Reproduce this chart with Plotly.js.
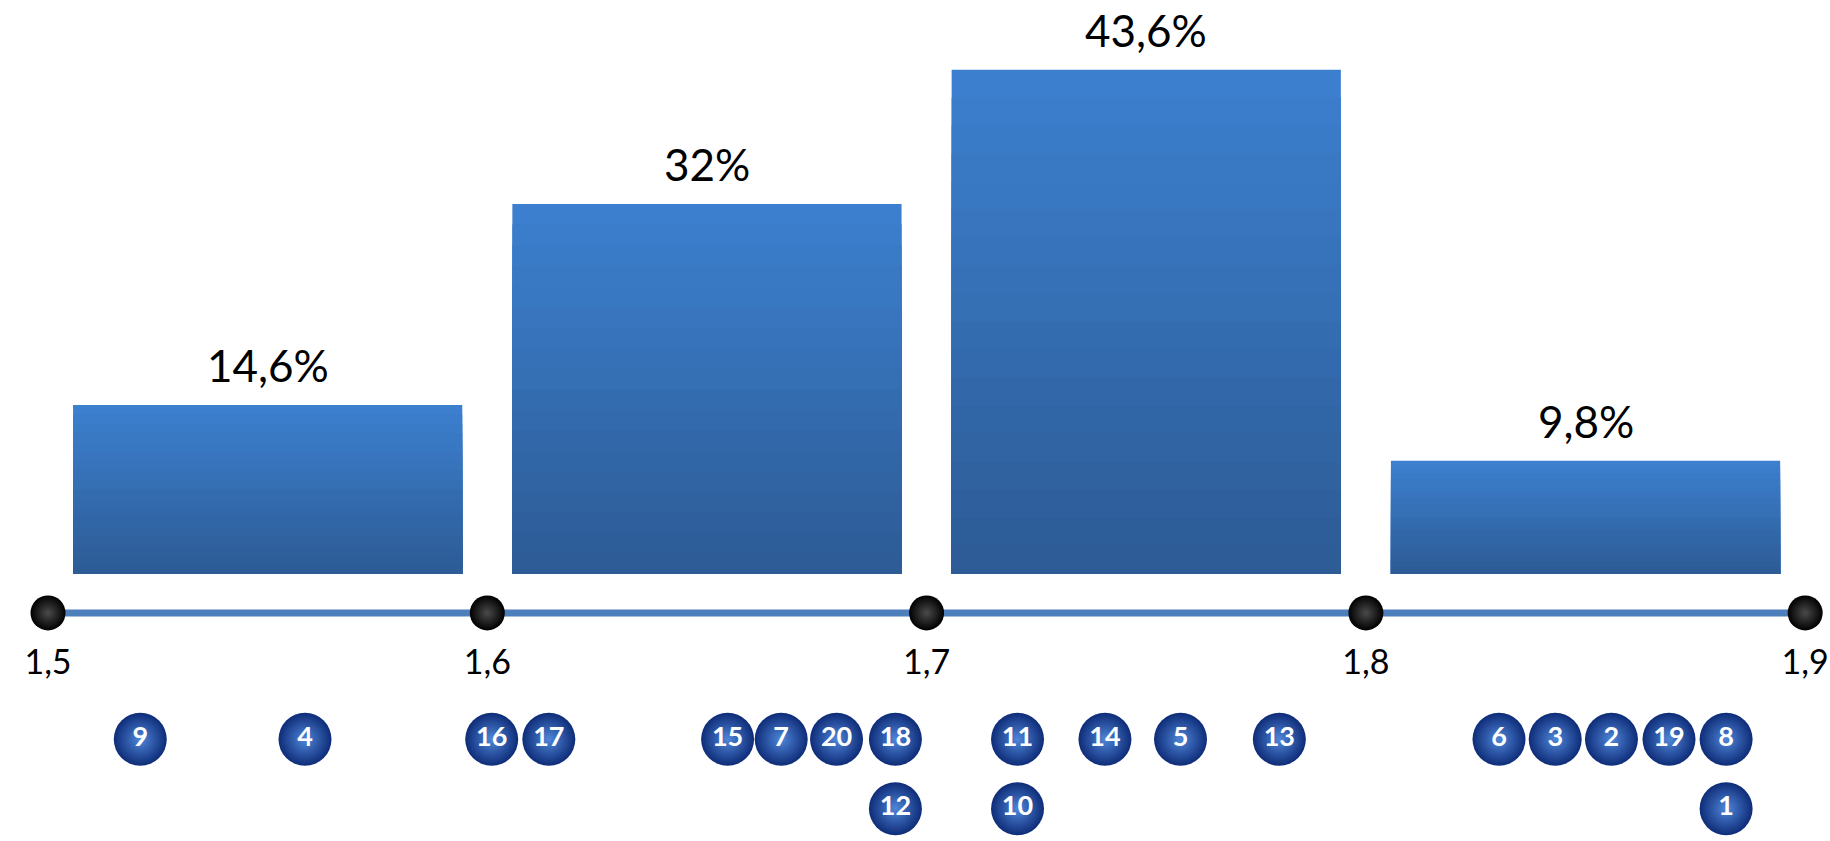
<!DOCTYPE html>
<html>
<head>
<meta charset="utf-8">
<script src="https://cdn.plot.ly/plotly-3.0.1.min.js"></script>
<style>
  html, body { margin: 0; padding: 0; background: #ffffff; }
  #chart { width: 1830px; height: 841px; }
</style>
</head>
<body>
<div id="chart"></div>
<script>
// ---- data ----
const binCenters = [1.55, 1.65, 1.75, 1.85];
const binShares = [14.6, 32, 43.6, 9.8];
const binLabels = ['14,6%', '32%', '43,6%', '9,8%'];

const tickValues = [1.5, 1.6, 1.7, 1.8, 1.9];
const tickLabels = ['1,5', '1,6', '1,7', '1,8', '1,9'];

const personIds = ['9', '4', '16', '17', '15', '7', '20', '18', '12', '11', '10', '14', '5', '13', '6', '3', '2', '19', '8', '1'];
const personHeights = [1.521, 1.5585, 1.601, 1.614, 1.6547, 1.6669, 1.6795, 1.6929, 1.6929, 1.7207, 1.7207, 1.7406, 1.7578, 1.7803, 1.8303, 1.8431, 1.8559, 1.869, 1.882, 1.882];
const personStack = [0, 0, 0, 0, 0, 0, 0, 0, 1, 0, 1, 0, 0, 0, 0, 0, 0, 0, 0, 1];

// ---- layout constants (positions / styles) ----
const axisLevel = -3.37;
const rowLevels = [-14.3, -20.3];
const barWidth = 0.0886;
const topColor = [60, 127, 206];
const bottomColor = [45, 92, 150];
const layers = 18;

const traces = [];

// gradient-looking bars: overlay layers of the same bars
for (let k = 0; k < layers; k++) {
  const t = k / (layers - 1);
  const c = topColor.map((v, i) => Math.round(v + (bottomColor[i] - v) * t));
  traces.push({
    type: 'bar',
    x: binCenters,
    y: binShares.map(v => v * (layers - k) / layers),
    width: barWidth,
    marker: { color: `rgb(${c[0]},${c[1]},${c[2]})`, line: { width: 0 } },
    hoverinfo: 'skip',
    showlegend: false
  });
}

// axis line with black dots
traces.push({
  type: 'scatter',
  mode: 'lines+markers',
  x: tickValues,
  y: tickValues.map(() => axisLevel),
  line: { color: '#4d7fbd', width: 7 },
  marker: {
    size: 35,
    color: '#000000',
    gradient: { type: 'radial', color: '#4a4a4a' },
    line: { width: 0 }
  },
  hoverinfo: 'skip',
  showlegend: false
});

// numbered balls
traces.push({
  type: 'scatter',
  mode: 'markers+text',
  x: personHeights,
  y: personStack.map(r => rowLevels[r]),
  text: personIds,
  textposition: 'middle center',
  textfont: { family: 'Lato, sans-serif', size: 27, color: '#ffffff', weight: 700 },
  marker: {
    size: 53,
    color: '#0e2c78',
    gradient: { type: 'radial', color: '#4f86d8' },
    line: { width: 0 }
  },
  hoverinfo: 'skip',
  showlegend: false
});

const annotations = binCenters.map((x, i) => ({
  x: x,
  y: binShares[i],
  xref: 'x',
  yref: 'y',
  text: binLabels[i],
  showarrow: false,
  yanchor: 'middle',
  yshift: 40,
  font: { family: 'Lato, sans-serif', size: 44, color: '#000000' }
}));

const layout = {
  width: 1830,
  height: 841,
  margin: { l: 0, r: 0, t: 0, b: 0, pad: 0 },
  paper_bgcolor: '#ffffff',
  plot_bgcolor: '#ffffff',
  barmode: 'overlay',
  separators: ',.',
  showlegend: false,
  xaxis: {
    range: [1.48907, 1.90565],
    showgrid: false,
    zeroline: false,
    showline: false,
    ticks: '',
    tickvals: tickValues,
    ticktext: tickLabels,
    tickfont: { family: 'Lato, sans-serif', size: 34, color: '#000000' },
    anchor: 'free',
    position: 1 - 639 / 841,
    ticklabelstandoff: 0,
    fixedrange: true
  },
  yaxis: {
    range: [-23.09, 49.63],
    showgrid: false,
    zeroline: false,
    showline: false,
    showticklabels: false,
    ticks: '',
    fixedrange: true
  },
  annotations: annotations
};

Plotly.newPlot('chart', traces, layout, { staticPlot: true, displayModeBar: false });
</script>
</body>
</html>
